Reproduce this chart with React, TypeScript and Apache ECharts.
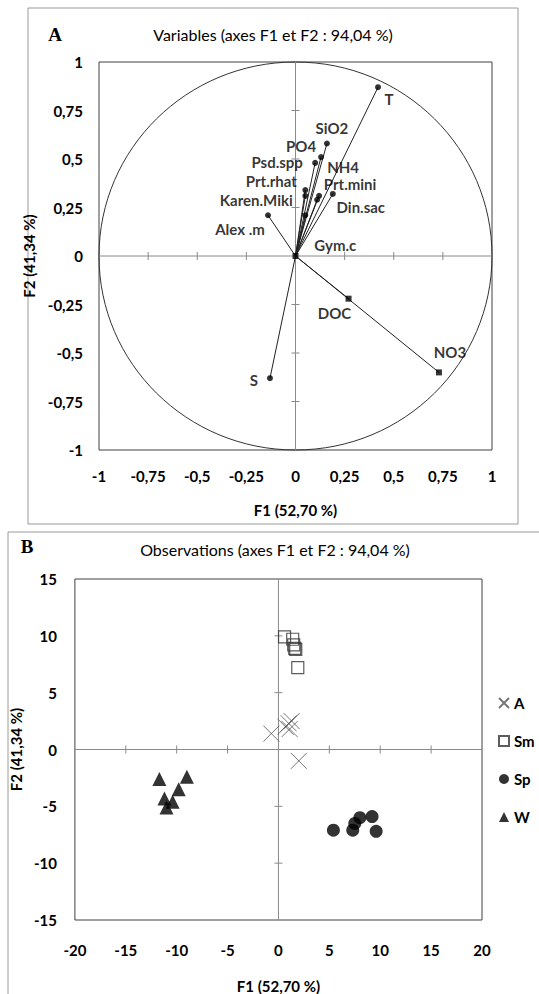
import React, { useEffect, useRef } from 'react';
import * as echarts from 'echarts';

// ---------- Panel A: variables (correlation circle) ----------
const varNames = ['T', 'SiO2', 'PO4', 'Psd.spp', 'NH4', 'Prt.mini', 'Prt.rhat', 'Karen.Miki', 'Din.sac', 'Gym.c', 'Alex .m', 'DOC', 'NO3', 'S'];
const varF1 = [0.42, 0.16, 0.13, 0.10, 0.12, 0.11, 0.05, 0.05, 0.19, 0.05, -0.14, 0.27, 0.73, -0.13];
const varF2 = [0.87, 0.58, 0.51, 0.48, 0.31, 0.29, 0.34, 0.31, 0.32, 0.21, 0.21, -0.22, -0.60, -0.63];
const varMarker = ['circle', 'circle', 'circle', 'circle', 'circle', 'circle', 'circle', 'circle', 'circle', 'circle', 'circle', 'rect', 'rect', 'circle'];
const circleRadius = 1;
const ticksA = [-1, -0.75, -0.5, -0.25, 0, 0.25, 0.5, 0.75, 1];

// ---------- Panel B: observations ----------
const obsA_F1 = [-0.7, 0.7, 1.0, 1.3, 1.1, 2.0];
const obsA_F2 = [1.4, 2.0, 2.3, 2.5, 1.8, -1.0];
const obsSm_F1 = [0.6, 1.4, 1.5, 1.6, 1.7, 1.9];
const obsSm_F2 = [9.9, 9.7, 9.2, 8.9, 8.8, 7.2];
const obsSp_F1 = [5.4, 7.3, 7.5, 8.0, 9.2, 9.6];
const obsSp_F2 = [-7.1, -7.1, -6.5, -6.0, -5.9, -7.2];
const obsW_F1 = [-11.7, -9.0, -9.8, -11.2, -10.4, -11.0];
const obsW_F2 = [-2.6, -2.4, -3.5, -4.3, -4.6, -5.1];
const ticksBX = [-20, -15, -10, -5, 0, 5, 10, 15, 20];
const ticksBY = [-15, -10, -5, 0, 5, 10, 15];

// label offsets (style only)
const labelOffsets: Record<string, number[]> = {
  'T': [11, 12], 'SiO2': [5, -15], 'PO4': [-20, -11], 'Psd.spp': [-38, -1], 'NH4': [24, -29],
  'Prt.mini': [33, -16], 'Prt.rhat': [-34, -9], 'Karen.Miki': [-49, 4], 'Din.sac': [28, 13],
  'Gym.c': [30, 30], 'Alex .m': [-28, 14], 'DOC': [-14, 14], 'NO3': [11, -20], 'S': [-16, 2],
};

const FONT = 'Lato';
const fmt = (v: number) => String(v).replace('.', ',');
const X_PATH = 'path://M0 0L10 10M10 0L0 10';

function zip(a: number[], b: number[]) {
  return a.map((v, i) => [v, b[i]]);
}

function crossRender(xt: number[], yt: number[]) {
  return (params: any, api: any) => {
    const style = { stroke: '#8a8a8a', lineWidth: 1 };
    const xmin = xt[0], xmax = xt[xt.length - 1];
    const ymin = yt[0], ymax = yt[yt.length - 1];
    const o = api.coord([0, 0]);
    const l = api.coord([xmin, 0]);
    const r = api.coord([xmax, 0]);
    const t = api.coord([0, ymax]);
    const b = api.coord([0, ymin]);
    const children: any[] = [
      { type: 'line', shape: { x1: l[0], y1: o[1], x2: r[0], y2: o[1] }, style },
      { type: 'line', shape: { x1: o[0], y1: t[1], x2: o[0], y2: b[1] }, style },
    ];
    xt.forEach((v) => {
      if (v === 0 || v === xmin || v === xmax) return;
      const p = api.coord([v, 0]);
      children.push({ type: 'line', shape: { x1: p[0], y1: p[1] - 4, x2: p[0], y2: p[1] + 4 }, style });
    });
    yt.forEach((v) => {
      if (v === 0 || v === ymin || v === ymax) return;
      const p = api.coord([0, v]);
      children.push({ type: 'line', shape: { x1: p[0] - 4, y1: p[1], x2: p[0] + 4, y2: p[1] }, style });
    });
    return { type: 'group', children };
  };
}

export default function App() {
  const ref = useRef<HTMLDivElement>(null);
  useEffect(() => {
    document.body.style.margin = '0';
    if (!ref.current) return;
    const chart = echarts.init(ref.current, null, { renderer: 'svg' });

    const tickLabel = { color: '#000', fontWeight: 'bold' as const, fontSize: 15, fontFamily: FONT };
    const nameStyle = { color: '#000', fontWeight: 'bold' as const, fontSize: 15, fontFamily: FONT };

    const varData = varNames.map((n, i) => ({
      name: n,
      value: [varF1[i], varF2[i]],
      symbol: varMarker[i],
      symbolSize: 6,
      label: { offset: labelOffsets[n] || [0, 0] },
    }));

    const titleStyle = (text: string, size: number) => ({
      text, font: `${size}px ${FONT}`, fill: '#000',
      textAlign: 'center', textVerticalAlign: 'middle', align: 'center', verticalAlign: 'middle',
    });

    const option: any = {
      animation: false,
      grid: [
        { left: 99, top: 62, width: 393, height: 388, show: true, borderColor: '#404040', borderWidth: 1 },
        { left: 66, top: 579, width: 416, height: 348, show: true, borderColor: '#404040', borderWidth: 1 },
      ],
      xAxis: [
        {
          gridIndex: 0, type: 'value', min: -1, max: 1, interval: 0.25,
          axisLine: { show: false }, axisTick: { show: false }, splitLine: { show: false },
          axisLabel: { ...tickLabel, margin: 18, formatter: fmt },
          name: 'F1 (52,70 %)', nameLocation: 'middle', nameGap: 52, nameTextStyle: nameStyle,
        },
        {
          gridIndex: 1, type: 'value', min: -20, max: 20, interval: 5,
          axisLine: { show: false }, axisTick: { show: false }, splitLine: { show: false },
          axisLabel: { ...tickLabel, margin: 22, formatter: fmt },
          name: 'F1 (52,70 %)', nameLocation: 'middle', nameGap: 58, nameTextStyle: nameStyle,
        },
      ],
      yAxis: [
        {
          gridIndex: 0, type: 'value', min: -1, max: 1, interval: 0.25,
          axisLine: { show: false }, axisTick: { show: false }, splitLine: { show: false },
          axisLabel: { ...tickLabel, margin: 16, formatter: fmt },
          name: 'F2 (41,34 %)', nameLocation: 'middle', nameGap: 57, nameRotate: 90, nameTextStyle: nameStyle,
        },
        {
          gridIndex: 1, type: 'value', min: -15, max: 15, interval: 5,
          axisLine: { show: false }, axisTick: { show: false }, splitLine: { show: false },
          axisLabel: { ...tickLabel, margin: 18, formatter: fmt },
          name: 'F2 (41,34 %)', nameLocation: 'middle', nameGap: 49, nameRotate: 90, nameTextStyle: nameStyle,
        },
      ],
      legend: {
        data: [
          { name: 'A', icon: X_PATH },
          { name: 'Sm', icon: 'rect' },
          { name: 'Sp', icon: 'circle' },
          { name: 'W', icon: 'triangle' },
        ],
        orient: 'vertical', left: 493, top: 690, itemWidth: 10, itemHeight: 10, itemGap: 22,
        textStyle: { color: '#000', fontWeight: 'bold', fontSize: 15, fontFamily: FONT, lineHeight: 16 },
        selectedMode: false,
      },
      graphic: [
        { type: 'rect', shape: { x: 28, y: 8, width: 490, height: 516 }, style: { fill: 'none', stroke: '#9a9a9a', lineWidth: 1 }, silent: true },
        { type: 'rect', shape: { x: 8, y: 532, width: 560, height: 500 }, style: { fill: 'none', stroke: '#9a9a9a', lineWidth: 1 }, silent: true },
        { type: 'text', x: 55, y: 34, style: { text: 'A', font: 'bold 19px "Liberation Serif"', fill: '#000', textAlign: 'center', textVerticalAlign: 'middle', align: 'center', verticalAlign: 'middle' } },
        { type: 'text', x: 273, y: 34, style: titleStyle('Variables (axes F1 et F2 : 94,04 %)', 16) },
        { type: 'text', x: 27, y: 546, style: { text: 'B', font: 'bold 19px "Liberation Serif"', fill: '#000', textAlign: 'center', textVerticalAlign: 'middle', align: 'center', verticalAlign: 'middle' } },
        { type: 'text', x: 275, y: 549, style: titleStyle('Observations (axes F1 et F2 : 94,04 %)', 16) },
      ],
      series: [
        {
          name: 'circle', type: 'custom', xAxisIndex: 0, yAxisIndex: 0, silent: true, z: 1,
          data: [[0, 0, circleRadius]],
          renderItem: (params: any, api: any) => {
            const c = api.coord([api.value(0), api.value(1)]);
            const s = api.size([api.value(2), api.value(2)]);
            return { type: 'ellipse', shape: { cx: c[0], cy: c[1], rx: s[0], ry: s[1] }, style: { fill: 'none', stroke: '#333', lineWidth: 1 } };
          },
        },
        {
          name: 'axesA', type: 'custom', xAxisIndex: 0, yAxisIndex: 0, silent: true, z: 1,
          data: [[0, 0]], renderItem: crossRender(ticksA, ticksA),
        },
        {
          name: 'vectors', type: 'custom', xAxisIndex: 0, yAxisIndex: 0, silent: true, z: 2,
          data: zip(varF1, varF2),
          renderItem: (params: any, api: any) => {
            const p0 = api.coord([0, 0]);
            const p1 = api.coord([api.value(0), api.value(1)]);
            return { type: 'line', shape: { x1: p0[0], y1: p0[1], x2: p1[0], y2: p1[1] }, style: { stroke: '#222', lineWidth: 1 } };
          },
        },
        {
          name: 'variables', type: 'scatter', xAxisIndex: 0, yAxisIndex: 0, silent: true, z: 3,
          itemStyle: { color: '#000' },
          label: { show: true, position: 'inside', formatter: '{b}', color: '#000', fontWeight: 'bold', fontSize: 15, fontFamily: FONT },
          data: varData,
        },
        {
          name: 'origin', type: 'scatter', xAxisIndex: 0, yAxisIndex: 0, silent: true, z: 3,
          symbol: 'rect', symbolSize: 6, itemStyle: { color: '#000' }, data: [[0, 0]],
        },
        {
          name: 'axesB', type: 'custom', xAxisIndex: 1, yAxisIndex: 1, silent: true, z: 1,
          data: [[0, 0]], renderItem: crossRender(ticksBX, ticksBY),
        },
        {
          name: 'A', type: 'scatter', xAxisIndex: 1, yAxisIndex: 1, silent: true, z: 3,
          symbol: X_PATH, symbolSize: 16,
          itemStyle: { color: 'rgba(0,0,0,0)', borderColor: '#555', borderWidth: 1 },
          data: zip(obsA_F1, obsA_F2),
        },
        {
          name: 'Sm', type: 'scatter', xAxisIndex: 1, yAxisIndex: 1, silent: true, z: 3,
          symbol: 'rect', symbolSize: 12,
          itemStyle: { color: 'rgba(0,0,0,0)', borderColor: '#333', borderWidth: 1.2 },
          data: zip(obsSm_F1, obsSm_F2),
        },
        {
          name: 'Sp', type: 'scatter', xAxisIndex: 1, yAxisIndex: 1, silent: true, z: 3,
          symbol: 'circle', symbolSize: 13, itemStyle: { color: '#000' },
          data: zip(obsSp_F1, obsSp_F2),
        },
        {
          name: 'W', type: 'scatter', xAxisIndex: 1, yAxisIndex: 1, silent: true, z: 3,
          symbol: 'triangle', symbolSize: 14, itemStyle: { color: '#000' },
          data: zip(obsW_F1, obsW_F2),
        },
      ],
    };
    chart.setOption(option);
    return () => chart.dispose();
  }, []);
  return <div ref={ref} style={{ width: 539, height: 994 }} />;
}
